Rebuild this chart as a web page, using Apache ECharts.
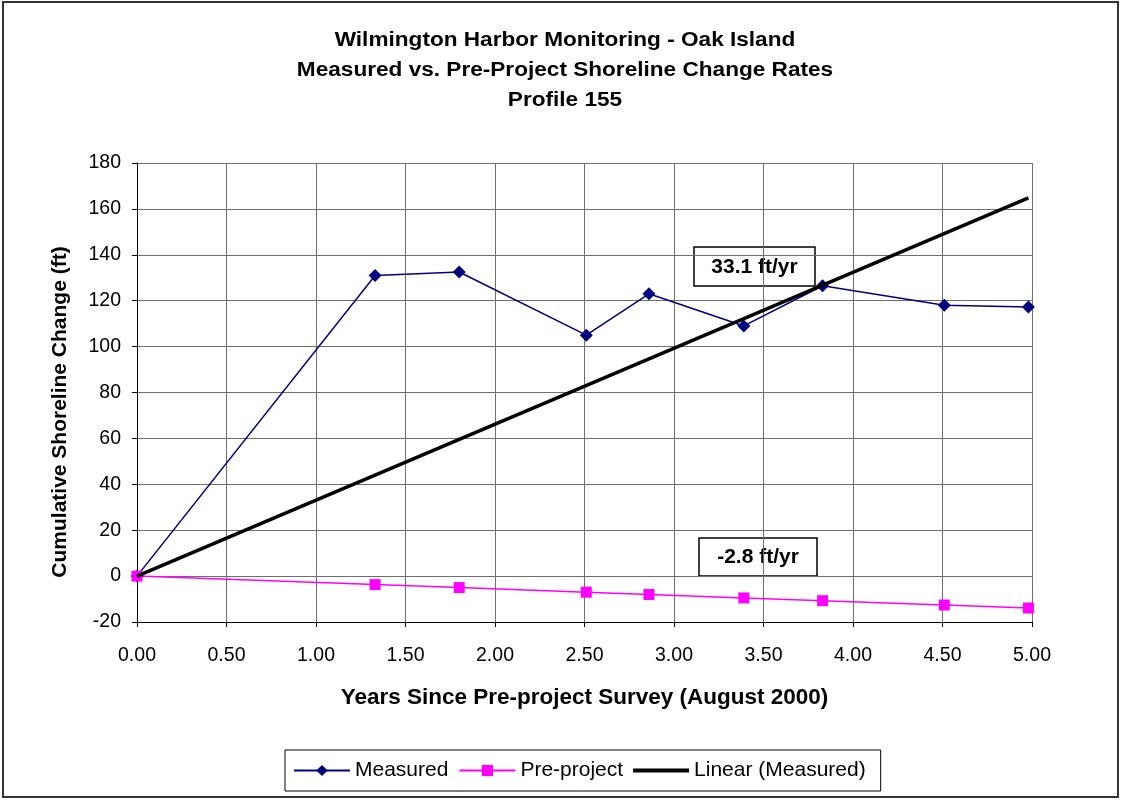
<!DOCTYPE html>
<html>
<head>
<meta charset="utf-8">
<script src="https://cdn.jsdelivr.net/npm/echarts@6/dist/echarts.min.js"></script>
<style>
  html, body { margin: 0; padding: 0; background: #fff; }
  #chart { width: 1121px; height: 801px; }
</style>
</head>
<body>
<div id="chart"></div>
<script>
// Years since the pre-project survey for each monitoring survey
const years = [0.00, 1.33, 1.80, 2.51, 2.86, 3.39, 3.83, 4.51, 4.98];
// Cumulative shoreline change (ft)
const measured = [0, 131, 132.5, 105, 123, 109, 126.5, 118, 117.3];
const preProject = [0, -3.7, -5.0, -7.0, -8.0, -9.5, -10.7, -12.6, -13.9];
// Linear fit of the measured data through the origin (ft/yr)
const trendSlope = 33.1;
const preProjectRate = -2.8;
const trendYears = [0, 4.98];

const xTicks = { min: 0, max: 5, interval: 0.5 };
const yTicks = { min: -20, max: 180, interval: 20 };

const titleLines = [
  'Wilmington Harbor Monitoring - Oak Island',
  'Measured vs. Pre-Project Shoreline Change Rates',
  'Profile 155'
];
const yAxisTitle = 'Cumulative Shoreline Change (ft)';
const xAxisTitle = 'Years Since Pre-project Survey (August 2000)';

const FONT = '"Liberation Sans", Arial, sans-serif';

const pairs = (xs, ys) => xs.map((x, i) => [x, ys[i]]);
const trendLine = trendYears.map(x => [x, +(trendSlope * x).toFixed(2)]);

const chart = echarts.init(document.getElementById('chart'), null, { renderer: 'canvas' });

// Title lines, slightly widened bold text
const titleGraphics = titleLines.map((t, i) => ({
  type: 'text',
  x: 565, y: 40 + i * 30,
  scaleX: 1.13,
  style: { text: t, font: 'bold 20px ' + FONT, fill: '#000',
           textAlign: 'center', textVerticalAlign: 'middle' }
}));

// Boxed rate annotation
const rateBox = (x, y, w, h, rate) => ({
  type: 'group', x: x, y: y, z: 100,
  children: [
    { type: 'rect', shape: { x: 0, y: 0, width: w, height: h },
      style: { fill: '#fff', stroke: '#000', lineWidth: 1.5 } },
    { type: 'text', x: w / 2, y: h / 2 + 0.5,
      style: { text: rate.toFixed(1) + ' ft/yr', font: 'bold 21px ' + FONT,
               fill: '#000', textAlign: 'center', textVerticalAlign: 'middle' } }
  ]
});

chart.setOption({
  backgroundColor: '#fff',
  animation: false,
  textStyle: { fontFamily: FONT },
  grid: { left: 137, right: 89, top: 163, bottom: 179, show: false },
  xAxis: {
    type: 'value',
    min: xTicks.min, max: xTicks.max, interval: xTicks.interval,
    name: xAxisTitle,
    nameLocation: 'middle',
    nameGap: 64,
    nameTextStyle: { fontFamily: FONT, fontSize: 22.5, fontWeight: 'bold', color: '#000' },
    axisLine: { show: true, onZero: false, lineStyle: { color: '#000', width: 1 } },
    axisTick: { show: true, inside: false, length: 5, lineStyle: { color: '#000' } },
    axisLabel: { fontFamily: FONT, fontSize: 19.5, color: '#000', margin: 24,
                 formatter: v => v.toFixed(2) },
    splitLine: { show: true, lineStyle: { color: '#6f6f6f', width: 1 } }
  },
  yAxis: {
    type: 'value',
    min: yTicks.min, max: yTicks.max, interval: yTicks.interval,
    axisLine: { show: true, onZero: false, lineStyle: { color: '#000', width: 1 } },
    axisTick: { show: true, inside: false, length: 5, lineStyle: { color: '#000' } },
    axisLabel: { fontFamily: FONT, fontSize: 19.5, color: '#000', margin: 16 },
    splitLine: { show: true, lineStyle: { color: '#6f6f6f', width: 1 } }
  },
  legend: {
    left: 285,
    bottom: 10,
    itemGap: 10,
    itemWidth: 56,
    itemHeight: 14,
    padding: [10, 15, 10, 8],
    borderColor: '#000',
    borderWidth: 1,
    textStyle: { fontFamily: FONT, fontSize: 21, color: '#000' },
    data: [
      'Measured',
      'Pre-project',
      { name: 'Linear (Measured)', icon: 'path://M0,0 L14,0 L14,1 L0,1 Z' }
    ]
  },
  graphic: [
    {
      type: 'rect', silent: true, z: -10,
      shape: { x: 3, y: 2, width: 1115, height: 795 },
      style: { fill: 'none', stroke: '#333', lineWidth: 2 }
    },
    ...titleGraphics,
    {
      type: 'text',
      x: 60, y: 412,
      rotation: Math.PI / 2,
      style: { text: yAxisTitle, font: 'bold 21px ' + FONT, fill: '#000',
               textAlign: 'center', textVerticalAlign: 'middle' }
    },
    rateBox(694, 247, 121, 39, trendSlope),
    rateBox(699, 538, 118, 38, preProjectRate)
  ],
  series: [
    {
      name: 'Measured',
      type: 'line',
      data: pairs(years, measured),
      symbol: 'diamond',
      symbolSize: 13,
      showAllSymbol: true,
      lineStyle: { color: '#000080', width: 1.5 },
      itemStyle: { color: '#000080' },
      z: 3
    },
    {
      name: 'Pre-project',
      type: 'line',
      data: pairs(years, preProject),
      symbol: 'rect',
      symbolSize: 11,
      showAllSymbol: true,
      lineStyle: { color: '#FF00FF', width: 1.5 },
      itemStyle: { color: '#FF00FF' },
      z: 3
    },
    {
      name: 'Linear (Measured)',
      type: 'line',
      data: trendLine,
      symbol: 'none',
      lineStyle: { color: '#000', width: 3.5 },
      itemStyle: { color: '#000' },
      z: 4
    }
  ]
});
</script>
</body>
</html>
